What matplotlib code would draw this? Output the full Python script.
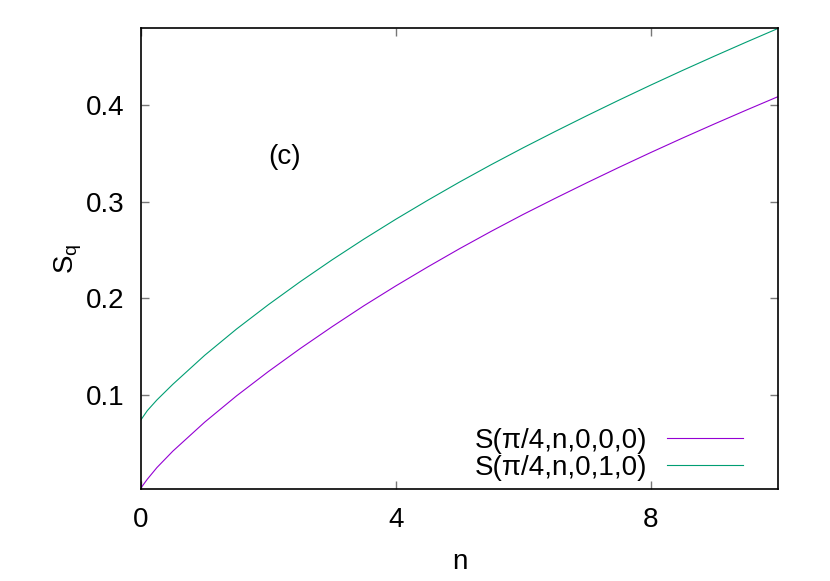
import matplotlib
matplotlib.use('Agg')
import matplotlib.pyplot as plt

plt.rcParams['font.family'] = ['Liberation Sans', 'DejaVu Sans']
plt.rcParams['mathtext.fontset'] = 'custom'
plt.rcParams['mathtext.rm'] = 'Liberation Sans'
plt.rcParams['mathtext.it'] = 'Liberation Sans'

# values
n_vals = [0, 0.1, 0.25, 0.5, 1, 1.5, 2, 2.5, 3, 3.5, 4, 4.5, 5, 5.5, 6,
          6.5, 7, 7.5, 8, 8.5, 9, 9.5, 10]
s_000 = [0.004, 0.013, 0.025, 0.042, 0.072, 0.0992, 0.1244, 0.1482, 0.1708,
         0.1925, 0.213, 0.2326, 0.2515, 0.2696, 0.287,
         0.3036, 0.3198, 0.3356, 0.351, 0.366, 0.3806, 0.3949, 0.4089]
s_010 = [0.0745, 0.084, 0.095, 0.1112, 0.1412, 0.1684, 0.1936, 0.2174, 0.240,
         0.2615, 0.282, 0.3016, 0.3205, 0.3386, 0.356,
         0.3728, 0.3892, 0.4052, 0.4208, 0.436, 0.4508, 0.4653, 0.4795]
labels = ['S(\u03c0/4,n,0,0,0)', 'S(\u03c0/4,n,0,1,0)']
colors = ['#9400d3', '#009e73']

fig = plt.figure(figsize=(8.3, 5.81), dpi=100)
ax = fig.add_axes([0.1699, 0.1592, 0.7674, 0.7918])

ax.plot(n_vals, s_000, color=colors[0], lw=0.8, label=labels[0])
ax.plot(n_vals, s_010, color=colors[1], lw=0.8, label=labels[1])

ax.set_xlim(0, 10)
ax.set_ylim(0.0033, 0.4795)
ax.set_xticks([0, 4, 8])
ax.set_yticks([0.1, 0.2, 0.3, 0.4])
ax.set_yticklabels(['0.1', '0.2', '0.3', '0.4'])
ax.tick_params(direction='in', top=True, right=True, length=6, width=1,
               color='#777777', labelsize=20)
ax.tick_params(axis='x', pad=13)
ax.tick_params(axis='y', pad=12)
for sp in ax.spines.values():
    sp.set_linewidth(1.2)

ax.set_xlabel('n', fontsize=20, labelpad=12)
ax.set_ylabel(r'$\mathregular{S_q}$', fontsize=20, labelpad=1)

ax.text(2.0, 0.346, '(c)', fontsize=20, ha='left', va='center')

ax.legend(loc='lower right', bbox_to_anchor=(743 / 830, (581 - 481) / 581),
          bbox_transform=fig.transFigure, frameon=False, markerfirst=False,
          fontsize=20, handlelength=2.75, handletextpad=0.7, labelspacing=0.05,
          borderpad=0, borderaxespad=0)

fig.savefig('out.png', dpi=100)
